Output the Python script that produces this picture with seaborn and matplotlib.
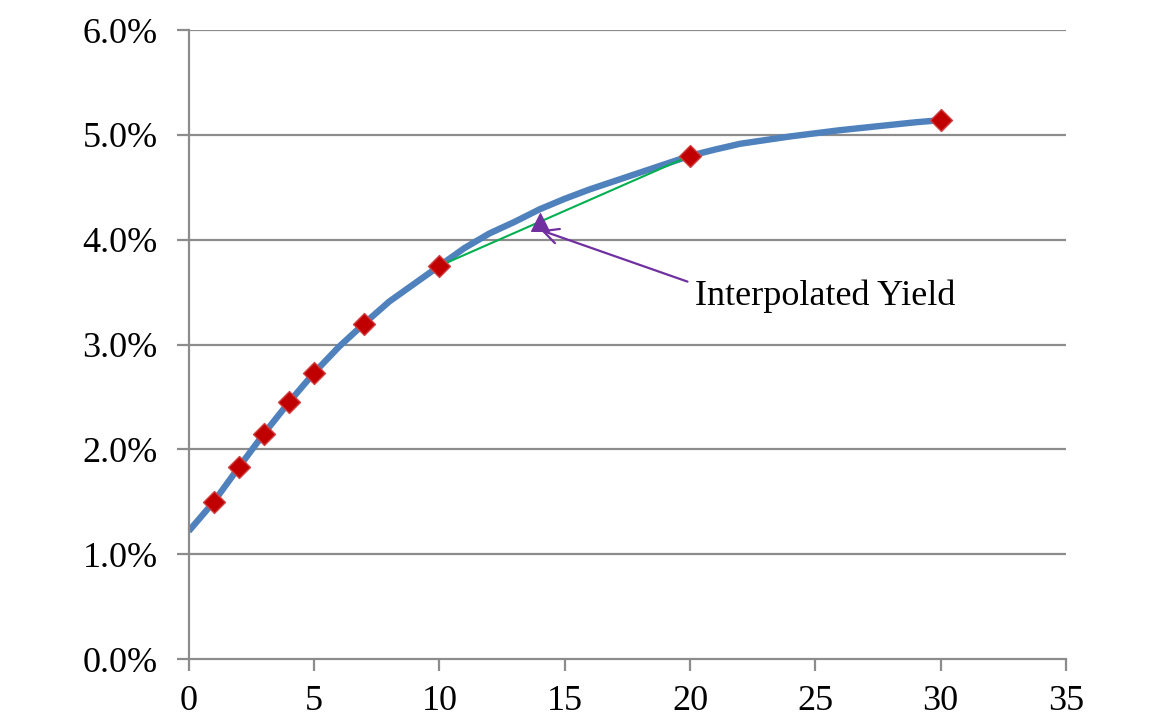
import matplotlib
matplotlib.use("Agg")
import matplotlib.pyplot as plt
import seaborn as sns
import pandas as pd
from matplotlib.ticker import FuncFormatter

# Interpolated yield curve
curve_maturity = [0, 1, 2, 3, 4, 5, 6, 7, 8, 9, 10, 11, 12, 13, 14, 15, 16, 17, 18, 19,
                  20, 21, 22, 23, 24, 25, 26, 27, 28, 29, 30]
curve_yield = [1.22, 1.50, 1.83, 2.15, 2.45, 2.73, 2.98, 3.20, 3.41, 3.58, 3.75, 3.92,
               4.06, 4.17, 4.29, 4.39, 4.48, 4.56, 4.64, 4.72, 4.80, 4.86, 4.915, 4.95,
               4.985, 5.015, 5.045, 5.07, 5.095, 5.12, 5.14]

# Observed market points
obs_maturity = [1, 2, 3, 4, 5, 7, 10, 20, 30]
obs_yield = [1.50, 1.83, 2.15, 2.455, 2.73, 3.20, 3.75, 4.80, 5.14]

# Linear interpolation between 10y and 20y
lin_maturity = [10, 20]
lin_yield = [3.75, 4.80]
interp_point_x = [14]
interp_point_y = [4.17]

annotation_text = "Interpolated Yield"
x_ticks = [0, 5, 10, 15, 20, 25, 30, 35]
y_ticks = [0, 1, 2, 3, 4, 5, 6]

sns.set_theme(style="white")
plt.rcParams['font.family'] = ['Liberation Serif', 'DejaVu Serif']
plt.rcParams['text.color'] = 'black'
plt.rcParams['xtick.labelcolor'] = 'black'
plt.rcParams['ytick.labelcolor'] = 'black'

fig = plt.figure(figsize=(11.58, 7.27), dpi=100)
ax = fig.add_axes([0.163, 0.0935, 0.7575, 0.8652])

grid_col = "#8c8c8c"
for yt in y_ticks[1:]:
    ax.axhline(yt, color=grid_col, lw=1.6, zorder=0)

curve_df = pd.DataFrame({"m": curve_maturity, "y": curve_yield})
sns.lineplot(data=curve_df, x="m", y="y", ax=ax, color="#4F81BD", lw=4.6,
             solid_capstyle="butt", zorder=2)

lin_df = pd.DataFrame({"m": lin_maturity, "y": lin_yield})
sns.lineplot(data=lin_df, x="m", y="y", ax=ax, color="#00B050", lw=1.5, zorder=3)

obs_df = pd.DataFrame({"m": obs_maturity, "y": obs_yield})
sns.scatterplot(data=obs_df, x="m", y="y", ax=ax, marker="D", s=125,
                color="#C00000", edgecolor="#D04040", linewidth=1.0, zorder=4)

ip_df = pd.DataFrame({"m": interp_point_x, "y": interp_point_y})
sns.scatterplot(data=ip_df, x="m", y="y", ax=ax, marker="^", s=160,
                color="#7030A0", edgecolor="#7030A0", zorder=5)

ax.annotate("", xy=(14.05, 4.09), xytext=(19.9, 3.60),
            arrowprops=dict(arrowstyle="->,head_length=0.9,head_width=0.45",
                            color="#7030A0", lw=1.6, shrinkA=0, shrinkB=0), zorder=5)
ax.text(20.2, 3.46, annotation_text, fontsize=26, ha="left", va="center", color="black")

ax.set_xlim(0, 35)
ax.set_ylim(0, 6)
ax.set_xticks(x_ticks)
ax.set_yticks(y_ticks)
ax.yaxis.set_major_formatter(FuncFormatter(lambda v, p: f"{v:.1f}%"))
ax.set_xlabel("")
ax.set_ylabel("")
ax.tick_params(axis="both", which="major", labelsize=26, length=8.5, width=1.6,
               color=grid_col, labelcolor="black", direction="out", left=True, bottom=True)
ax.tick_params(axis="y", pad=14)
ax.tick_params(axis="x", pad=10)
for s in ["top", "right"]:
    ax.spines[s].set_visible(False)
for s in ["left", "bottom"]:
    ax.spines[s].set_color(grid_col)
    ax.spines[s].set_linewidth(1.6)
ax.set_facecolor("white")
fig.patch.set_facecolor("white")

fig.savefig("out.png", dpi=100)
